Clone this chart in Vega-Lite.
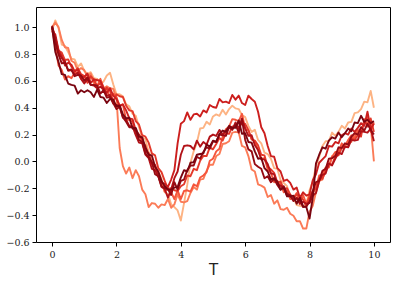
{
  "$schema": "https://vega.github.io/schema/vega-lite/v6.json",
  "width": 354,
  "height": 235,
  "autosize": "none",
  "padding": {"left": 36, "top": 7, "right": 8, "bottom": 42},
  "background": "white",
  "config": {"view": {"stroke": "black", "strokeWidth": 1}},
  "data": {"values": [
    {"t":0,"a":0.98,"b":1.00,"c":0.99,"d":1.00,"e":0.97,"f":1.00,"g":1.01,"h":1.00},
    {"t":0.1,"a":1.05,"b":1.035,"c":0.855,"d":0.925,"e":0.945,"f":0.925,"g":0.89,"h":0.815},
    {"t":0.2,"a":0.995,"b":1.0,"c":0.715,"d":0.825,"e":0.83,"f":0.81,"g":0.795,"h":0.74},
    {"t":0.3,"a":0.87,"b":0.905,"c":0.68,"d":0.81,"e":0.785,"f":0.77,"g":0.73,"h":0.65},
    {"t":0.4,"a":0.86,"b":0.85,"c":0.61,"d":0.755,"e":0.715,"f":0.745,"g":0.735,"h":0.645},
    {"t":0.5,"a":0.815,"b":0.845,"c":0.635,"d":0.76,"e":0.735,"f":0.675,"g":0.68,"h":0.58},
    {"t":0.6,"a":0.765,"b":0.75,"c":0.62,"d":0.705,"e":0.72,"f":0.68,"g":0.685,"h":0.57},
    {"t":0.7,"a":0.76,"b":0.735,"c":0.66,"d":0.67,"e":0.67,"f":0.645,"g":0.635,"h":0.565},
    {"t":0.8,"a":0.705,"b":0.675,"c":0.665,"d":0.695,"e":0.685,"f":0.66,"g":0.645,"h":0.505},
    {"t":0.9,"a":0.73,"b":0.695,"c":0.615,"d":0.65,"e":0.63,"f":0.615,"g":0.64,"h":0.53},
    {"t":1.0,"a":0.675,"b":0.68,"c":0.63,"d":0.635,"e":0.63,"f":0.58,"g":0.60,"h":0.515},
    {"t":1.1,"a":0.65,"b":0.63,"c":0.615,"d":0.585,"e":0.655,"f":0.615,"g":0.625,"h":0.53},
    {"t":1.2,"a":0.665,"b":0.655,"c":0.63,"d":0.635,"e":0.585,"f":0.57,"g":0.57,"h":0.515},
    {"t":1.3,"a":0.62,"b":0.58,"c":0.595,"d":0.61,"e":0.61,"f":0.565,"g":0.57,"h":0.48},
    {"t":1.4,"a":0.615,"b":0.61,"c":0.56,"d":0.56,"e":0.605,"f":0.545,"g":0.565,"h":0.535},
    {"t":1.5,"a":0.575,"b":0.595,"c":0.615,"d":0.585,"e":0.60,"f":0.555,"g":0.505,"h":0.48},
    {"t":1.6,"a":0.595,"b":0.545,"c":0.55,"d":0.52,"e":0.545,"f":0.54,"g":0.53,"h":0.475},
    {"t":1.7,"a":0.64,"b":0.56,"c":0.535,"d":0.55,"e":0.51,"f":0.49,"g":0.475,"h":0.435},
    {"t":1.8,"a":0.66,"b":0.545,"c":0.475,"d":0.525,"e":0.545,"f":0.495,"g":0.48,"h":0.465},
    {"t":1.9,"a":0.575,"b":0.54,"c":0.505,"d":0.445,"e":0.49,"f":0.43,"g":0.435,"h":0.46},
    {"t":2.0,"a":0.50,"b":0.475,"c":0.48,"d":0.50,"e":0.465,"f":0.42,"g":0.39,"h":0.41},
    {"t":2.1,"a":0.50,"b":0.10,"c":0.41,"d":0.485,"e":0.415,"f":0.415,"g":0.405,"h":0.415},
    {"t":2.2,"a":0.485,"b":-0.035,"c":0.425,"d":0.48,"e":0.425,"f":0.325,"g":0.33,"h":0.35},
    {"t":2.3,"a":0.425,"b":-0.09,"c":0.31,"d":0.415,"e":0.38,"f":0.31,"g":0.295,"h":0.32},
    {"t":2.4,"a":0.41,"b":-0.045,"c":0.31,"d":0.38,"e":0.32,"f":0.265,"g":0.255,"h":0.325},
    {"t":2.5,"a":0.355,"b":-0.125,"c":0.295,"d":0.375,"e":0.315,"f":0.26,"g":0.255,"h":0.245},
    {"t":2.6,"a":0.34,"b":-0.065,"c":0.205,"d":0.30,"e":0.23,"f":0.195,"g":0.23,"h":0.25},
    {"t":2.7,"a":0.255,"b":-0.11,"c":0.20,"d":0.275,"e":0.20,"f":0.14,"g":0.16,"h":0.185},
    {"t":2.8,"a":0.18,"b":-0.21,"c":0.135,"d":0.195,"e":0.165,"f":0.135,"g":0.145,"h":0.18},
    {"t":2.9,"a":0.165,"b":-0.245,"c":0.12,"d":0.185,"e":0.075,"f":0.05,"g":0.06,"h":0.105},
    {"t":3.0,"a":0.07,"b":-0.34,"c":0.045,"d":0.14,"e":0.06,"f":0.025,"g":0.03,"h":0.05},
    {"t":3.1,"a":0.025,"b":-0.31,"c":-0.02,"d":0.06,"e":-0.015,"f":-0.055,"g":-0.005,"h":0.045},
    {"t":3.2,"a":-0.065,"b":-0.315,"c":-0.025,"d":0.045,"e":-0.03,"f":-0.065,"g":-0.095,"h":-0.04},
    {"t":3.3,"a":-0.075,"b":-0.345,"c":-0.11,"d":-0.05,"e":-0.105,"f":-0.11,"g":-0.11,"h":-0.075},
    {"t":3.4,"a":-0.13,"b":-0.32,"c":-0.145,"d":-0.08,"e":-0.16,"f":-0.19,"g":-0.185,"h":-0.145},
    {"t":3.5,"a":-0.23,"b":-0.325,"c":-0.225,"d":-0.145,"e":-0.165,"f":-0.205,"g":-0.20,"h":-0.185},
    {"t":3.6,"a":-0.245,"b":-0.28,"c":-0.205,"d":-0.205,"e":-0.19,"f":-0.27,"g":-0.205,"h":-0.21},
    {"t":3.7,"a":-0.32,"b":-0.345,"c":-0.23,"d":-0.20,"e":-0.135,"f":-0.21,"g":-0.25,"h":-0.21},
    {"t":3.8,"a":-0.34,"b":-0.32,"c":-0.28,"d":-0.215,"e":-0.065,"f":-0.125,"g":-0.155,"h":-0.195},
    {"t":3.9,"a":-0.365,"b":-0.245,"c":-0.215,"d":-0.22,"e":0.135,"f":-0.075,"g":-0.21,"h":-0.19},
    {"t":4.0,"a":-0.44,"b":-0.30,"c":-0.28,"d":-0.185,"e":0.28,"f":0.05,"g":-0.145,"h":-0.12},
    {"t":4.1,"a":-0.31,"b":-0.305,"c":-0.22,"d":-0.17,"e":0.30,"f":0.115,"g":-0.135,"h":-0.065},
    {"t":4.2,"a":-0.175,"b":-0.295,"c":-0.215,"d":-0.105,"e":0.365,"f":0.12,"g":-0.065,"h":-0.075},
    {"t":4.3,"a":-0.01,"b":-0.235,"c":-0.225,"d":-0.11,"e":0.31,"f":0.115,"g":-0.03,"h":-0.01},
    {"t":4.4,"a":0.075,"b":-0.19,"c":-0.17,"d":-0.055,"e":0.35,"f":0.09,"g":-0.03,"h":-0.005},
    {"t":4.5,"a":0.14,"b":-0.21,"c":-0.185,"d":-0.065,"e":0.355,"f":0.155,"g":0.035,"h":0.05},
    {"t":4.6,"a":0.245,"b":-0.135,"c":-0.12,"d":0.005,"e":0.335,"f":0.11,"g":0.02,"h":0.055},
    {"t":4.7,"a":0.25,"b":-0.13,"c":-0.105,"d":0.04,"e":0.38,"f":0.145,"g":0.07,"h":0.06},
    {"t":4.8,"a":0.295,"b":-0.07,"c":-0.08,"d":0.04,"e":0.365,"f":0.125,"g":0.105,"h":0.125},
    {"t":4.9,"a":0.275,"b":-0.025,"c":0.005,"d":0.105,"e":0.42,"f":0.185,"g":0.095,"h":0.11},
    {"t":5.0,"a":0.335,"b":-0.025,"c":0.02,"d":0.09,"e":0.405,"f":0.20,"g":0.15,"h":0.155},
    {"t":5.1,"a":0.35,"b":0.04,"c":0.075,"d":0.13,"e":0.40,"f":0.19,"g":0.145,"h":0.145},
    {"t":5.2,"a":0.34,"b":0.055,"c":0.095,"d":0.175,"e":0.465,"f":0.235,"g":0.20,"h":0.205},
    {"t":5.3,"a":0.385,"b":0.13,"c":0.185,"d":0.155,"e":0.44,"f":0.20,"g":0.195,"h":0.23},
    {"t":5.4,"a":0.35,"b":0.135,"c":0.24,"d":0.21,"e":0.445,"f":0.23,"g":0.19,"h":0.22},
    {"t":5.5,"a":0.39,"b":0.15,"c":0.26,"d":0.205,"e":0.435,"f":0.255,"g":0.255,"h":0.265},
    {"t":5.6,"a":0.415,"b":0.215,"c":0.315,"d":0.26,"e":0.495,"f":0.235,"g":0.24,"h":0.25},
    {"t":5.7,"a":0.395,"b":0.22,"c":0.31,"d":0.255,"e":0.46,"f":0.29,"g":0.275,"h":0.25},
    {"t":5.8,"a":0.39,"b":0.215,"c":0.30,"d":0.29,"e":0.49,"f":0.245,"g":0.215,"h":0.305},
    {"t":5.9,"a":0.345,"b":0.115,"c":0.355,"d":0.275,"e":0.435,"f":0.32,"g":0.315,"h":0.205},
    {"t":6.0,"a":0.33,"b":0.105,"c":0.245,"d":0.28,"e":0.42,"f":0.245,"g":0.16,"h":0.21},
    {"t":6.1,"a":0.265,"b":0.04,"c":0.23,"d":0.235,"e":0.49,"f":0.19,"g":0.09,"h":0.145},
    {"t":6.2,"a":0.22,"b":-0.06,"c":0.165,"d":0.165,"e":0.465,"f":0.195,"g":0.075,"h":0.14},
    {"t":6.3,"a":0.235,"b":-0.075,"c":0.15,"d":0.155,"e":0.445,"f":0.12,"g":-0.02,"h":0.075},
    {"t":6.4,"a":0.16,"b":-0.17,"c":0.085,"d":0.12,"e":0.37,"f":0.085,"g":-0.04,"h":0.02},
    {"t":6.5,"a":0.135,"b":-0.18,"c":0.02,"d":0.05,"e":0.255,"f":0.015,"g":-0.055,"h":0.025},
    {"t":6.6,"a":0.065,"b":-0.195,"c":0.025,"d":0.045,"e":0.21,"f":0.015,"g":-0.125,"h":-0.05},
    {"t":6.7,"a":0.055,"b":-0.265,"c":-0.06,"d":-0.04,"e":0.115,"f":-0.02,"g":-0.11,"h":-0.075},
    {"t":6.8,"a":0.02,"b":-0.25,"c":-0.085,"d":-0.06,"e":0.04,"f":-0.09,"g":-0.155,"h":-0.135},
    {"t":6.9,"a":-0.05,"b":-0.315,"c":-0.155,"d":-0.085,"e":0.035,"f":-0.095,"g":-0.13,"h":-0.125},
    {"t":7.0,"a":-0.055,"b":-0.29,"c":-0.145,"d":-0.155,"e":-0.05,"f":-0.17,"g":-0.175,"h":-0.15},
    {"t":7.1,"a":-0.14,"b":-0.355,"c":-0.17,"d":-0.15,"e":-0.075,"f":-0.18,"g":-0.21,"h":-0.21},
    {"t":7.2,"a":-0.16,"b":-0.36,"c":-0.23,"d":-0.205,"e":-0.145,"f":-0.195,"g":-0.185,"h":-0.195},
    {"t":7.3,"a":-0.185,"b":-0.345,"c":-0.215,"d":-0.20,"e":-0.135,"f":-0.255,"g":-0.24,"h":-0.26},
    {"t":7.4,"a":-0.265,"b":-0.39,"c":-0.28,"d":-0.245,"e":-0.16,"f":-0.25,"g":-0.255,"h":-0.26},
    {"t":7.5,"a":-0.27,"b":-0.405,"c":-0.27,"d":-0.28,"e":-0.21,"f":-0.285,"g":-0.295,"h":-0.255},
    {"t":7.6,"a":-0.325,"b":-0.445,"c":-0.235,"d":-0.245,"e":-0.195,"f":-0.27,"g":-0.275,"h":-0.315},
    {"t":7.7,"a":-0.33,"b":-0.445,"c":-0.315,"d":-0.26,"e":-0.27,"f":-0.315,"g":-0.29,"h":-0.27},
    {"t":7.8,"a":-0.335,"b":-0.50,"c":-0.25,"d":-0.285,"e":-0.23,"f":-0.30,"g":-0.34,"h":-0.335},
    {"t":7.9,"a":-0.32,"b":-0.50,"c":-0.315,"d":-0.335,"e":-0.255,"f":-0.315,"g":-0.335,"h":-0.34},
    {"t":8.0,"a":-0.215,"b":-0.375,"c":-0.25,"d":-0.265,"e":-0.245,"f":-0.31,"g":-0.30,"h":-0.425},
    {"t":8.1,"a":-0.15,"b":-0.33,"c":-0.235,"d":-0.22,"e":-0.14,"f":-0.255,"g":-0.22,"h":-0.27},
    {"t":8.2,"a":-0.035,"b":-0.23,"c":-0.20,"d":-0.20,"e":-0.095,"f":-0.235,"g":-0.155,"h":-0.015},
    {"t":8.3,"a":0.035,"b":-0.145,"c":-0.105,"d":-0.125,"e":-0.01,"f":-0.145,"g":-0.145,"h":0.05},
    {"t":8.4,"a":0.115,"b":-0.135,"c":-0.10,"d":-0.13,"e":0.015,"f":-0.10,"g":-0.07,"h":0.105},
    {"t":8.5,"a":0.15,"b":-0.05,"c":-0.045,"d":-0.07,"e":0.04,"f":-0.09,"g":-0.055,"h":0.095},
    {"t":8.6,"a":0.15,"b":-0.035,"c":-0.045,"d":-0.015,"e":0.115,"f":-0.015,"g":0.02,"h":0.155},
    {"t":8.7,"a":0.215,"b":0.04,"c":0.035,"d":-0.025,"e":0.11,"f":-0.03,"g":0.025,"h":0.18},
    {"t":8.8,"a":0.19,"b":0.045,"c":0.07,"d":0.04,"e":0.145,"f":0.02,"g":0.04,"h":0.17},
    {"t":8.9,"a":0.22,"b":0.06,"c":0.07,"d":0.045,"e":0.135,"f":0.065,"g":0.105,"h":0.215},
    {"t":9.0,"a":0.265,"b":0.125,"c":0.135,"d":0.10,"e":0.195,"f":0.055,"g":0.10,"h":0.18},
    {"t":9.1,"a":0.245,"b":0.11,"c":0.11,"d":0.105,"e":0.21,"f":0.11,"g":0.135,"h":0.21},
    {"t":9.2,"a":0.29,"b":0.155,"c":0.16,"d":0.11,"e":0.20,"f":0.105,"g":0.125,"h":0.245},
    {"t":9.3,"a":0.295,"b":0.145,"c":0.195,"d":0.175,"e":0.245,"f":0.16,"g":0.185,"h":0.225},
    {"t":9.4,"a":0.36,"b":0.205,"c":0.175,"d":0.16,"e":0.22,"f":0.155,"g":0.21,"h":0.29},
    {"t":9.5,"a":0.365,"b":0.23,"c":0.23,"d":0.195,"e":0.25,"f":0.16,"g":0.20,"h":0.285},
    {"t":9.6,"a":0.39,"b":0.23,"c":0.235,"d":0.185,"e":0.285,"f":0.225,"g":0.255,"h":0.34},
    {"t":9.7,"a":0.445,"b":0.285,"c":0.29,"d":0.315,"e":0.265,"f":0.22,"g":0.23,"h":0.295},
    {"t":9.8,"a":0.44,"b":0.29,"c":0.325,"d":0.26,"e":0.37,"f":0.215,"g":0.28,"h":0.31},
    {"t":9.9,"a":0.525,"b":0.27,"c":0.22,"d":0.32,"e":0.245,"f":0.245,"g":0.235,"h":0.285},
    {"t":10.0,"a":0.40,"b":0.00,"c":0.29,"d":0.22,"e":0.28,"f":0.15,"g":0.20,"h":0.30}
  ]},
  "transform": [{"fold": ["a","b","c","d","e","f","g","h"], "as": ["s","v"]}],
  "mark": {"type": "line", "strokeWidth": 1.9, "strokeJoin": "round"},
  "encoding": {
    "x": {"field": "t", "type": "quantitative",
      "scale": {"domain": [-0.5, 10.5], "nice": false, "zero": false},
      "axis": {"values": [0,2,4,6,8,10], "format": "d", "title": "T", "grid": false, "domain": false,
        "tickColor": "black", "tickSize": 4, "labelFont": "DejaVu Serif", "labelFontSize": 9.5, "labelColor": "#222", "labelPadding": 3,
        "titleFont": "DejaVu Sans", "titleFontSize": 15, "titleFontWeight": "normal", "titleColor": "#222", "titlePadding": 4}},
    "y": {"field": "v", "type": "quantitative",
      "scale": {"domain": [-0.6, 1.15], "nice": false, "zero": false},
      "axis": {"values": [-0.6,-0.4,-0.2,0,0.2,0.4,0.6,0.8,1.0], "format": ".1f", "title": null, "grid": false, "domain": false,
        "tickColor": "black", "tickSize": 4, "labelFont": "DejaVu Serif", "labelFontSize": 9.5, "labelColor": "#222", "labelPadding": 3}},
    "color": {"field": "s", "type": "nominal", "legend": null,
      "scale": {"domain": ["a","b","c","d","e","f","g","h"],
        "range": ["#fdb383","#fb7b57","#f5553c","#e3392a","#cc1f1e","#b21218","#960a12","#7a0510"]}},
    "order": {"field": "t", "type": "quantitative"}
  }
}
